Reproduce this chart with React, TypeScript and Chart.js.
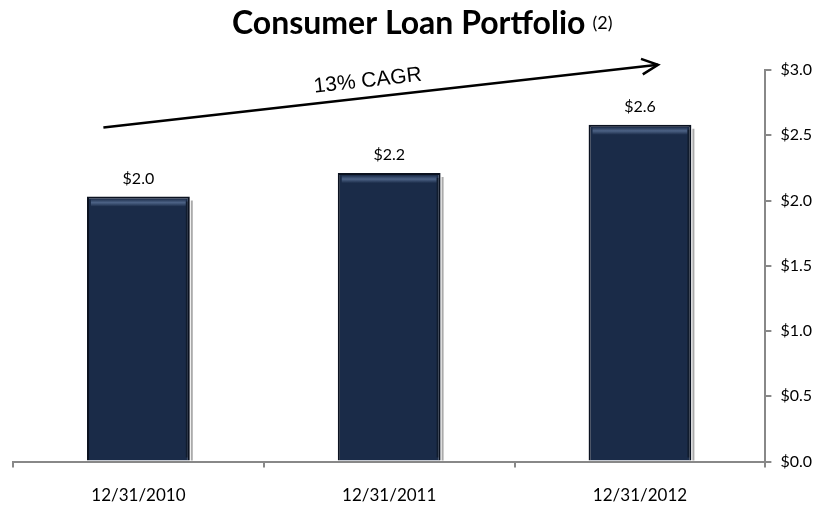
import React, { useEffect, useRef } from "react";
import { Chart, registerables } from "chart.js";

Chart.register(...registerables);

const categories = ["12/31/2010", "12/31/2011", "12/31/2012"];
const values = [2.03, 2.21, 2.58];
const valueLabels = ["$2.0", "$2.2", "$2.6"];
const yTicks = [0, 0.5, 1.0, 1.5, 2.0, 2.5, 3.0];
const titleText = "Consumer Loan Portfolio";
const titleNote = "(2)";
const cagrLabel = "13% CAGR";
const cagrFrom = 2.56; // value level at arrow start
const cagrTo = 3.04; // value level at arrow end

const FONT = "Lato, 'Open Sans', sans-serif";

const decorPlugin = {
  id: "decor",
  afterDatasetsDraw(chart: any) {
    const ctx = chart.ctx;
    const meta = chart.getDatasetMeta(0);
    ctx.save();
    meta.data.forEach((bar: any, i: number) => {
      const { x, y, base, width } = bar.getProps(["x", "y", "base", "width"], true);
      const l = x - width / 2;
      const r = x + width / 2;
      // bevel highlights
      const g = ctx.createLinearGradient(0, y + 2, 0, y + 10);
      g.addColorStop(0, "rgba(110,135,175,0.0)");
      g.addColorStop(0.5, "rgba(110,135,175,0.6)");
      g.addColorStop(1, "rgba(110,135,175,0.0)");
      ctx.fillStyle = g;
      ctx.fillRect(l + 4, y + 2, width - 8, 8);
      ctx.strokeStyle = "rgba(0,0,0,0.35)";
      ctx.lineWidth = 2;
      ctx.beginPath();
      ctx.moveTo(r - 3, y + 5);
      ctx.lineTo(r - 3, base - 3);
      ctx.stroke();
      ctx.strokeStyle = "rgba(150,150,150,0.8)";
      ctx.lineWidth = 2;
      ctx.beginPath();
      ctx.moveTo(r + 2, y + 4);
      ctx.lineTo(r + 2, base);
      ctx.stroke();
      // value label
      ctx.fillStyle = "#000";
      ctx.font = `16px ${FONT}`;
      ctx.textAlign = "center";
      ctx.textBaseline = "bottom";
      ctx.fillText(valueLabels[i], x, y - 10);
    });

    // title
    ctx.fillStyle = "#000";
    ctx.textBaseline = "alphabetic";
    ctx.font = `bold 32px ${FONT}`;
    const tw = ctx.measureText(titleText).width;
    ctx.font = `18px ${FONT}`;
    const nw = ctx.measureText(titleNote).width;
    const gap = 7;
    const cx = (chart.chartArea.left + chart.chartArea.right) / 2 + 33;
    const start = cx - (tw + nw + gap) / 2;
    ctx.textAlign = "left";
    ctx.font = `bold 32px ${FONT}`;
    ctx.fillText(titleText, start, 34);
    ctx.font = `18px ${FONT}`;
    ctx.fillText(titleNote, start + tw + gap, 29);

    // CAGR arrow
    const xs = chart.scales.x;
    const ys = chart.scales.y;
    const x0 = xs.getPixelForValue(0) - 35;
    const y0 = ys.getPixelForValue(cagrFrom);
    const x1 = xs.getPixelForValue(2) + 18;
    const y1 = ys.getPixelForValue(cagrTo);
    const ang = Math.atan2(y1 - y0, x1 - x0);
    ctx.strokeStyle = "#000";
    ctx.lineWidth = 2.5;
    ctx.beginPath();
    ctx.moveTo(x0, y0);
    ctx.lineTo(x1, y1);
    ctx.stroke();
    const hl = 18;
    ctx.beginPath();
    ctx.moveTo(x1 - hl * Math.cos(ang - 0.45), y1 - hl * Math.sin(ang - 0.45));
    ctx.lineTo(x1, y1);
    ctx.lineTo(x1 - hl * Math.cos(ang + 0.45), y1 - hl * Math.sin(ang + 0.45));
    ctx.stroke();
    // label
    const t = 0.48;
    const lx = x0 + (x1 - x0) * t;
    const ly = y0 + (y1 - y0) * t;
    ctx.translate(lx, ly);
    ctx.rotate(ang);
    ctx.font = `21px 'Liberation Sans', Arial, sans-serif`;
    ctx.textAlign = "center";
    ctx.textBaseline = "bottom";
    ctx.fillText(cagrLabel, 0, -6);
    ctx.restore();
  },
};

export default function App() {
  const ref = useRef<HTMLCanvasElement>(null);
  useEffect(() => {
    document.body.style.margin = "0";
    const chart = new Chart(ref.current!, {
      type: "bar",
      data: {
        labels: categories,
        datasets: [
          {
            data: values,
            backgroundColor: "#1a2b48",
            borderColor: "#0b1220",
            borderWidth: 2,
            categoryPercentage: 1,
            barPercentage: 0.41,
          },
        ],
      },
      options: {
        animation: false,
        responsive: false,
        maintainAspectRatio: false,
        layout: { padding: { top: 70, left: 13, right: 0, bottom: -19 } },
        plugins: { legend: { display: false }, tooltip: { enabled: false }, title: { display: false } },
        scales: {
          x: {
            type: "category",
            offset: true,
            grid: { offset: true, drawOnChartArea: false, tickLength: 6, color: "#888", lineWidth: 2 },
            border: { color: "#888", width: 2 },
            ticks: { color: "#000", font: { family: FONT, size: 17 }, padding: 18 },
          },
          y: {
            position: "right",
            min: 0,
            max: 3,
            afterBuildTicks: (axis: any) => {
              axis.ticks = yTicks.map((v) => ({ value: v }));
            },
            grid: { drawOnChartArea: false, tickLength: 6, color: "#888", lineWidth: 2 },
            border: { color: "#888", width: 2 },
            ticks: {
              color: "#000",
              font: { family: FONT, size: 16 },
              padding: 9,
              callback: (v: any) => "$" + Number(v).toFixed(1),
            },
          },
        },
      },
      plugins: [decorPlugin],
    });
    return () => chart.destroy();
  }, []);
  return (
    <div style={{ position: "fixed", left: 0, top: 0, width: 821, height: 505, background: "#fff" }}>
      <canvas ref={ref} width={821} height={505} />
    </div>
  );
}
